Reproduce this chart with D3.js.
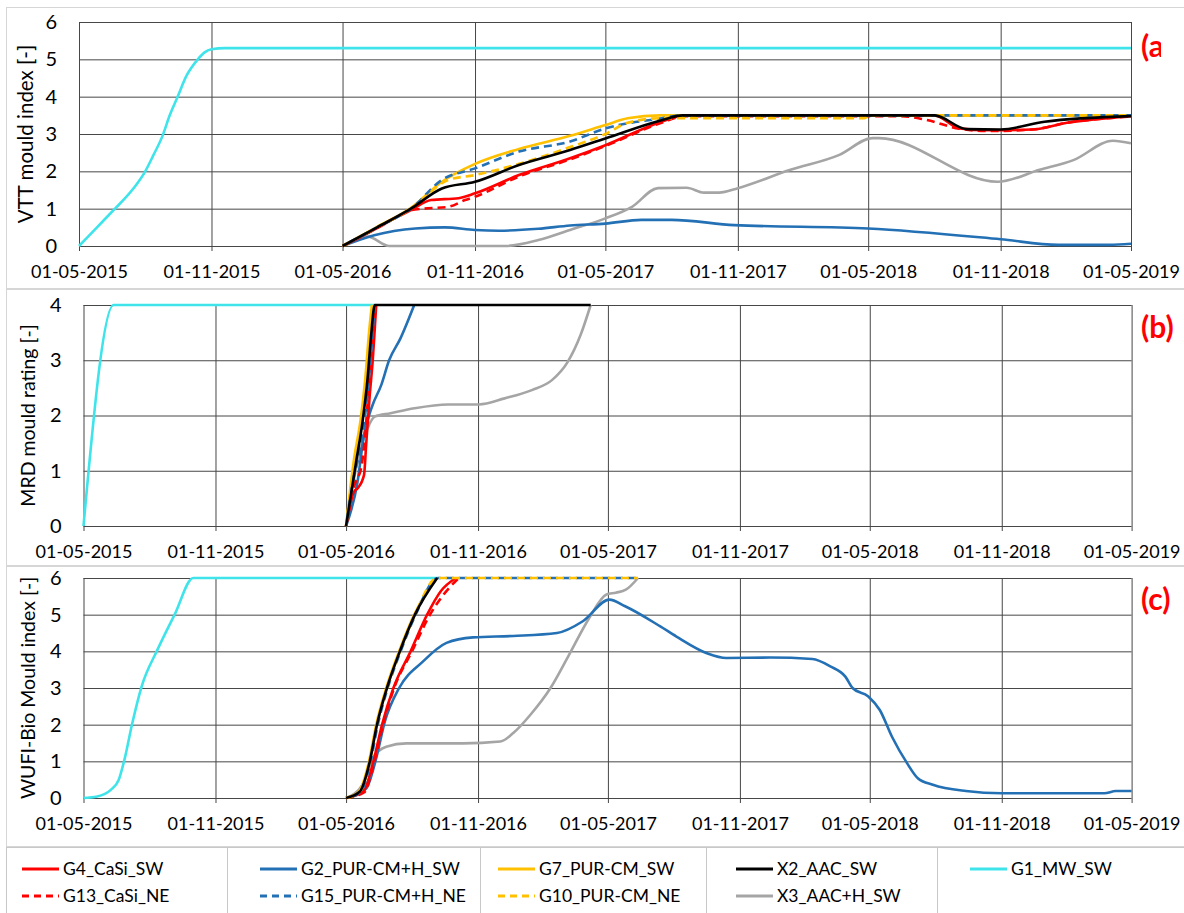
<!DOCTYPE html>
<html>
<head>
<meta charset="utf-8">
<script src="https://cdn.jsdelivr.net/npm/d3@7"></script>
<style>
body { margin: 0; background: #fff; }
text { font-family: Lato, "Open Sans", sans-serif; fill: #000; }
</style>
</head>
<body>
<script>
// x axis ticks (every 6 months) and series names
var xTickDates = ["2015-05-01", "2015-11-01", "2016-05-01", "2016-11-01", "2017-05-01",
                  "2017-11-01", "2018-05-01", "2018-11-01", "2019-05-01"];
var seriesNames = ["G4_CaSi_SW", "G13_CaSi_NE", "G2_PUR-CM+H_SW", "G15_PUR-CM+H_NE", "G7_PUR-CM_SW",
                   "G10_PUR-CM_NE", "X2_AAC_SW", "X3_AAC+H_SW", "G1_MW_SW"];
var panelTitles = ["VTT mould index [-]", "MRD mould rating [-]", "WUFI-Bio Mould index [-]"];
var panelTags = ["(a)", "(b)", "(c)"];
var panelMax = [6, 4, 6];

// (a) VTT mould index
var vttG4 = [["2016-05-01",0],["2016-06-18",0.48],["2016-07-12",0.74],["2016-08-04",0.96],["2016-09-01",1.23],["2016-10-09",1.28],["2016-11-01",1.41],["2017-01-01",1.9],["2017-03-13",2.35],["2017-05-01",2.7],["2017-07-18",3.33],["2017-08-19",3.5],["2018-08-01",3.5],["2018-09-05",3.15],["2018-10-15",3.1],["2018-12-15",3.12],["2019-02-01",3.3],["2019-05-01",3.48]];
var vttG13 = [["2016-05-01",0],["2016-06-18",0.48],["2016-07-12",0.74],["2016-08-04",0.96],["2016-08-22",1.0],["2016-09-25",1.05],["2016-10-18",1.23],["2016-11-01",1.32],["2017-01-01",1.86],["2017-03-13",2.32],["2017-05-01",2.68],["2017-07-18",3.3],["2017-08-20",3.48],["2018-06-15",3.48],["2018-07-20",3.38],["2018-09-05",3.14],["2018-10-15",3.08],["2018-12-15",3.12],["2019-02-01",3.3],["2019-05-01",3.47]];
var vttG2 = [["2016-05-01",0],["2016-06-14",0.29],["2016-08-10",0.47],["2016-09-20",0.5],["2016-11-01",0.43],["2016-12-04",0.41],["2017-01-28",0.46],["2017-03-13",0.55],["2017-05-01",0.6],["2017-06-20",0.7],["2017-08-01",0.7],["2017-10-27",0.56],["2018-05-01",0.47],["2018-11-01",0.18],["2019-01-20",0.03],["2019-04-01",0.03],["2019-05-01",0.06]];
var vttG15 = [["2016-05-01",0],["2016-06-18",0.5],["2016-08-04",1.0],["2016-09-16",1.77],["2016-11-01",2.08],["2017-01-01",2.53],["2017-03-13",2.8],["2017-05-01",3.15],["2017-07-18",3.42],["2017-08-16",3.5],["2019-05-01",3.5]];
var vttG7 = [["2016-05-01",0],["2016-06-18",0.51],["2016-08-04",1.02],["2016-09-16",1.72],["2016-11-01",2.2],["2017-01-01",2.6],["2017-03-13",2.95],["2017-05-01",3.24],["2017-06-01",3.42],["2017-07-16",3.5],["2019-05-01",3.5]];
var vttG10 = [["2016-05-01",0],["2016-06-18",0.5],["2016-08-04",1.0],["2016-09-25",1.77],["2016-11-01",1.9],["2017-01-01",2.2],["2017-03-13",2.65],["2017-05-01",3.0],["2017-06-01",3.3],["2017-07-16",3.42],["2018-04-25",3.42],["2018-05-05",3.5],["2019-05-01",3.5]];
var vttX2 = [["2016-05-01",0],["2016-06-18",0.5],["2016-08-04",1.0],["2016-09-16",1.54],["2016-11-01",1.72],["2017-01-01",2.17],["2017-03-13",2.57],["2017-05-01",2.88],["2017-07-18",3.37],["2017-08-16",3.5],["2018-08-01",3.5],["2018-09-15",3.13],["2018-11-01",3.12],["2019-01-01",3.33],["2019-05-01",3.48]];
var vttX3 = [["2016-05-01",0],["2016-06-05",0.25],["2016-07-05",0],["2016-12-13",0],["2017-01-28",0.16],["2017-03-13",0.43],["2017-05-01",0.74],["2017-06-07",1.05],["2017-07-13",1.55],["2017-08-22",1.56],["2017-09-15",1.43],["2017-10-06",1.43],["2017-11-01",1.55],["2018-01-13",2.04],["2018-03-22",2.44],["2018-05-07",2.89],["2018-05-16",2.89],["2018-10-28",1.72],["2018-12-25",2.04],["2019-02-10",2.3],["2019-04-06",2.82],["2019-05-01",2.75]];
var vttG1 = [["2015-05-01",0],["2015-05-25",0.48],["2015-06-20",1.0],["2015-07-04",1.28],["2015-07-18",1.6],["2015-08-01",2.0],["2015-08-12",2.42],["2015-08-25",2.95],["2015-09-04",3.5],["2015-09-15",4.0],["2015-09-27",4.55],["2015-10-13",5.0],["2015-10-22",5.18],["2015-11-01",5.27],["2015-11-20",5.3],["2019-05-01",5.3]];

// (b) MRD mould rating
var mrdG4 = [["2016-05-01",0],["2016-05-12",0.62],["2016-05-17",0.68],["2016-05-26",0.92],["2016-05-29",1.47],["2016-06-03",2.37],["2016-06-07",2.97],["2016-06-12",4]];
var mrdG13 = [["2016-05-01",0],["2016-05-13",0.75],["2016-05-22",1.05],["2016-05-28",1.7],["2016-06-02",2.6],["2016-06-06",3.3],["2016-06-11",4]];
var mrdG2 = [["2016-05-01",0],["2016-05-17",0.8],["2016-05-26",1.65],["2016-06-07",2.19],["2016-06-19",2.55],["2016-06-30",3.0],["2016-07-16",3.4],["2016-08-04",4]];
var mrdG15 = [["2016-05-01",0],["2016-05-12",0.9],["2016-05-20",1.35],["2016-05-28",2.05],["2016-06-03",2.85],["2016-06-10",4]];
var mrdG7 = [["2016-05-01",0],["2016-05-12",1.2],["2016-05-21",1.9],["2016-05-28",2.7],["2016-06-02",3.5],["2016-06-06",4]];
var mrdG10 = [["2016-05-01",0],["2016-05-13",1.15],["2016-05-23",1.9],["2016-05-30",2.7],["2016-06-04",3.5],["2016-06-08",4]];
var mrdX2 = [["2016-05-01",0],["2016-05-15",1.16],["2016-05-24",1.89],["2016-05-31",2.67],["2016-06-05",3.46],["2016-06-10",4],["2017-04-07",4]];
var mrdX3 = [["2016-05-01",0],["2016-05-15",1.05],["2016-05-31",1.77],["2016-06-10",1.98],["2016-07-02",2.04],["2016-08-04",2.13],["2016-09-20",2.2],["2016-11-02",2.2],["2016-12-08",2.31],["2017-01-15",2.46],["2017-02-12",2.64],["2017-03-06",2.97],["2017-03-24",3.46],["2017-04-07",4]];
var mrdG1 = [["2015-05-01",0],["2015-06-12",4],["2016-06-10",4]];

// (c) WUFI-Bio mould index
var wufiG4 = [["2016-05-01",0],["2016-05-25",0.17],["2016-06-08",0.99],["2016-06-20",1.99],["2016-07-06",3.0],["2016-07-30",4.0],["2016-08-22",5.0],["2016-09-10",5.64],["2016-10-01",6]];
var wufiG13 = [["2016-05-01",0],["2016-05-26",0.15],["2016-06-09",0.95],["2016-06-21",1.95],["2016-07-07",3.0],["2016-08-01",4.0],["2016-08-26",5.0],["2016-09-14",5.55],["2016-10-05",6]];
var wufiG2 = [["2016-05-01",0],["2016-05-29",0.26],["2016-06-12",1.08],["2016-06-24",2.08],["2016-07-14",3.0],["2016-08-16",3.72],["2016-09-18",4.23],["2016-10-25",4.38],["2016-12-20",4.42],["2017-02-19",4.5],["2017-03-27",4.82],["2017-05-03",5.41],["2017-05-25",5.23],["2017-07-13",4.68],["2017-08-04",4.41],["2017-09-16",3.95],["2017-10-13",3.82],["2017-12-13",3.83],["2018-02-10",3.79],["2018-03-07",3.59],["2018-03-28",3.31],["2018-04-07",3.0],["2018-04-29",2.77],["2018-05-15",2.4],["2018-06-01",1.67],["2018-06-22",0.95],["2018-07-07",0.54],["2018-07-28",0.36],["2018-09-12",0.19],["2018-11-01",0.13],["2019-03-24",0.13],["2019-04-09",0.19],["2019-05-01",0.19]];
var wufiG15 = [["2016-05-01",0],["2016-05-21",0.16],["2016-06-04",0.98],["2016-06-14",1.98],["2016-06-28",3.0],["2016-07-16",4.0],["2016-08-06",5.0],["2016-09-06",6],["2017-06-12",6]];
var wufiG7 = [["2016-05-01",0],["2016-05-19",0.18],["2016-06-02",1.0],["2016-06-12",2.0],["2016-06-26",3.0],["2016-07-14",4.0],["2016-08-04",5.0],["2016-09-04",6]];
var wufiG10 = [["2016-05-01",0],["2016-05-20",0.17],["2016-06-03",1.0],["2016-06-13",2.0],["2016-06-27",3.0],["2016-07-15",4.0],["2016-08-05",5.0],["2016-09-05",6],["2017-06-12",6]];
var wufiX2 = [["2016-05-01",0],["2016-05-20",0.17],["2016-06-03",0.99],["2016-06-13",1.99],["2016-06-27",3.0],["2016-07-15",4.0],["2016-08-05",5.0],["2016-09-05",6]];
var wufiX3 = [["2016-05-01",0],["2016-05-24",0.36],["2016-06-07",1.08],["2016-06-26",1.4],["2016-07-24",1.49],["2016-10-11",1.49],["2016-12-02",1.54],["2016-12-20",1.77],["2017-01-13",2.27],["2017-02-10",3.0],["2017-03-08",3.91],["2017-04-05",4.91],["2017-04-29",5.55],["2017-05-12",5.6],["2017-05-26",5.68],["2017-06-12",6]];
var wufiG1 = [["2015-05-01",0],["2015-05-20",0.04],["2015-06-08",0.22],["2015-06-19",0.49],["2015-06-27",1.04],["2015-07-08",2.04],["2015-07-21",3.04],["2015-08-12",4.04],["2015-09-05",5.0],["2015-10-01",6],["2016-09-05",6]];

var parse = d3.timeParse("%Y-%m-%d");
var fmt = d3.timeFormat("%d-%m-%Y");

// series styles
var styles = {
  "G4_CaSi_SW":      { color: "#ff0000", dash: null },
  "G13_CaSi_NE":     { color: "#ff0000", dash: "8,5" },
  "G2_PUR-CM+H_SW":  { color: "#2470b5", dash: null },
  "G15_PUR-CM+H_NE": { color: "#2470b5", dash: "8,5", offset: 6 },
  "G7_PUR-CM_SW":    { color: "#ffc000", dash: null },
  "G10_PUR-CM_NE":   { color: "#ffc000", dash: "8,5" },
  "X2_AAC_SW":       { color: "#000000", dash: null },
  "X3_AAC+H_SW":     { color: "#a5a5a5", dash: null },
  "G1_MW_SW":        { color: "#3ee4ea", dash: null }
};
// drawing order (bottom to top)
var drawOrder = ["G1_MW_SW", "X3_AAC+H_SW", "G2_PUR-CM+H_SW", "G4_CaSi_SW", "G13_CaSi_NE",
                 "G7_PUR-CM_SW", "G15_PUR-CM+H_NE", "G10_PUR-CM_NE", "X2_AAC_SW"];

var panelData = [
  { "G4_CaSi_SW": vttG4, "G13_CaSi_NE": vttG13, "G2_PUR-CM+H_SW": vttG2, "G15_PUR-CM+H_NE": vttG15,
    "G7_PUR-CM_SW": vttG7, "G10_PUR-CM_NE": vttG10, "X2_AAC_SW": vttX2, "X3_AAC+H_SW": vttX3, "G1_MW_SW": vttG1 },
  { "G4_CaSi_SW": mrdG4, "G13_CaSi_NE": mrdG13, "G2_PUR-CM+H_SW": mrdG2, "G15_PUR-CM+H_NE": mrdG15,
    "G7_PUR-CM_SW": mrdG7, "G10_PUR-CM_NE": mrdG10, "X2_AAC_SW": mrdX2, "X3_AAC+H_SW": mrdX3, "G1_MW_SW": mrdG1 },
  { "G4_CaSi_SW": wufiG4, "G13_CaSi_NE": wufiG13, "G2_PUR-CM+H_SW": wufiG2, "G15_PUR-CM+H_NE": wufiG15,
    "G7_PUR-CM_SW": wufiG7, "G10_PUR-CM_NE": wufiG10, "X2_AAC_SW": wufiX2, "X3_AAC+H_SW": wufiX3, "G1_MW_SW": wufiG1 }
];

// layout of the three panels
var panels = [
  { x0: 79,   x1: 1131,   yTop: 22,  yBot: 246, frameTop: 7,   frameBot: 288, titleX: 26, tagY: 57, tagClip: 1161 },
  { x0: 83.5, x1: 1131.6, yTop: 305, yBot: 526, frameTop: 289, frameBot: 565, titleX: 28, tagY: 338, tagClip: 1184 },
  { x0: 83.5, x1: 1131.6, yTop: 578, yBot: 798, frameTop: 566, frameBot: 846, titleX: 28, tagY: 610, tagClip: 1184 }
];

var svg = d3.select("body")
    .append("svg")
    .attr("width", 1184)
    .attr("height", 913);

svg.append("rect").attr("width", 1184).attr("height", 913).attr("fill", "#fff");

var xTicks = xTickDates.map(parse);
var gridColor = "#474747";

panels.forEach(function(p, i) {
    var g = svg.append("g");

    // panel frame
    g.append("rect")
        .attr("x", 6.5).attr("y", p.frameTop + 0.5)
        .attr("width", 1200).attr("height", p.frameBot - p.frameTop)
        .attr("fill", "none").attr("stroke", "#d6d6d6");

    var x = d3.scaleTime()
        .domain([xTicks[0], xTicks[xTicks.length - 1]])
        .range([p.x0, p.x1]);
    var y = d3.scaleLinear()
        .domain([0, panelMax[i]])
        .range([p.yBot, p.yTop]);

    // horizontal gridlines + y labels
    var ya = g.append("g")
        .attr("transform", "translate(" + p.x0 + ",0)")
        .call(d3.axisLeft(y).tickValues(d3.range(0, panelMax[i] + 1))
            .tickFormat(d3.format("d"))
            .tickSize(-(p.x1 - p.x0)).tickPadding(22));
    ya.select(".domain").remove();
    ya.selectAll("line").attr("stroke", gridColor);
    ya.selectAll("text").style("font-size", "20px");

    // vertical gridlines, extending below the axis as ticks
    var xa = g.append("g")
        .attr("transform", "translate(0," + p.yBot + ")")
        .call(d3.axisBottom(x).tickValues(xTicks).tickFormat(fmt)
            .tickSizeOuter(0).tickSizeInner(5).tickPadding(14));
    xa.select(".domain").remove();
    xa.selectAll(".tick line")
        .attr("y1", -(p.yBot - p.yTop))
        .attr("stroke", gridColor);
    xa.selectAll("text").style("font-size", "18px");

    // y title
    g.append("text")
        .attr("transform", "translate(" + p.titleX + "," + ((p.yTop + p.yBot) / 2) + ") rotate(-90)")
        .attr("text-anchor", "middle")
        .attr("dy", "0.35em")
        .style("font-size", i == 0 ? "20.5px" : "19.5px")
        .text(panelTitles[i]);

    // series lines
    var line = d3.line()
        .x(function(d) { return x(parse(d[0])); })
        .y(function(d) { return y(d[1]); })
        .curve(d3.curveMonotoneX);

    drawOrder.forEach(function(name) {
        var st = styles[name];
        g.append("path")
            .datum(panelData[i][name])
            .attr("d", line)
            .attr("fill", "none")
            .attr("stroke", st.color)
            .attr("stroke-width", 2.6)
            .attr("stroke-linejoin", "round")
            .attr("stroke-dasharray", st.dash)
            .attr("stroke-dashoffset", st.offset || 0);
    });

    // panel tag (the "(a)" one is cut by the edge of its box in the original)
    svg.append("clipPath").attr("id", "tagclip" + i)
        .append("rect")
        .attr("x", 1100).attr("y", p.frameTop)
        .attr("width", p.tagClip - 1100).attr("height", p.frameBot - p.frameTop);
    g.append("text")
        .attr("x", 1141)
        .attr("y", p.tagY)
        .attr("clip-path", "url(#tagclip" + i + ")")
        .style("font-size", "30px")
        .style("font-weight", "bold")
        .style("fill", "#ff0000")
        .text(panelTags[i]);
});

// legend
var legendCols = [22, 260, 498, 736, 970];
var legendRows = [869, 896];
var legendItems = [
    ["G4_CaSi_SW", 0, 0], ["G13_CaSi_NE", 0, 1],
    ["G2_PUR-CM+H_SW", 1, 0], ["G15_PUR-CM+H_NE", 1, 1],
    ["G7_PUR-CM_SW", 2, 0], ["G10_PUR-CM_NE", 2, 1],
    ["X2_AAC_SW", 3, 0], ["X3_AAC+H_SW", 3, 1],
    ["G1_MW_SW", 4, 0]
];

var lg = svg.append("g");
lg.append("rect")
    .attr("x", 6.5).attr("y", 847.5)
    .attr("width", 1200).attr("height", 100)
    .attr("fill", "none").attr("stroke", "#c8c8c8");
[227, 480, 706, 937].forEach(function(sx) {
    lg.append("line")
        .attr("x1", sx + 0.5).attr("x2", sx + 0.5)
        .attr("y1", 848).attr("y2", 913)
        .attr("stroke", "#c8c8c8");
});

legendItems.forEach(function(it) {
    var st = styles[it[0]];
    var lx = legendCols[it[1]], ly = legendRows[it[2]];
    lg.append("line")
        .attr("x1", lx).attr("x2", lx + 37)
        .attr("y1", ly).attr("y2", ly)
        .attr("stroke", st.color)
        .attr("stroke-width", 3)
        .attr("stroke-dasharray", st.dash ? "7,5" : null);
    lg.append("text")
        .attr("x", lx + 41)
        .attr("y", ly)
        .attr("dy", "0.35em")
        .style("font-size", "17.5px")
        .text(it[0]);
});
</script>
</body>
</html>
